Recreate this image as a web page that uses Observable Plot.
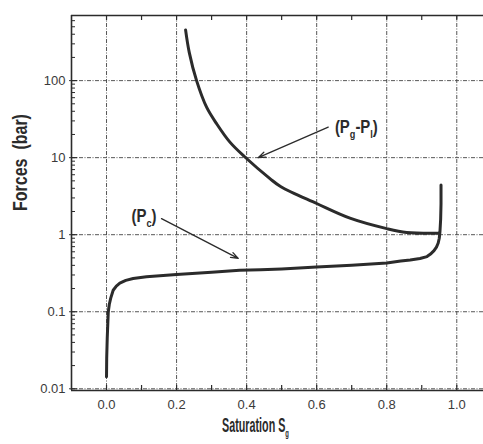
<!DOCTYPE html>
<html><head><meta charset="utf-8">
<script src="https://cdn.jsdelivr.net/npm/d3@7"></script>
<script src="https://cdn.jsdelivr.net/npm/@observablehq/plot@0.6"></script>
<style>body{margin:0;background:#fff}</style>
</head><body><div id="chart"></div>
<script>
// ---- data ----
const pcSat = [0, 0.0005, 0.002, 0.005, 0.008, 0.012, 0.019, 0.028, 0.038, 0.055, 0.076, 0.114, 0.2, 0.3, 0.38, 0.44, 0.5, 0.6, 0.7, 0.8, 0.84, 0.867, 0.895, 0.915, 0.925, 0.935, 0.942, 0.947, 0.95, 0.952, 0.954, 0.955, 0.955];
const pcVal = [0.0143, 0.025, 0.045, 0.1, 0.125, 0.15, 0.19, 0.215, 0.235, 0.255, 0.27, 0.285, 0.305, 0.325, 0.345, 0.35, 0.36, 0.38, 0.40, 0.43, 0.455, 0.47, 0.49, 0.52, 0.56, 0.62, 0.69, 0.78, 0.9, 1.1, 1.6, 2.5, 4.4];
const pgSat = [0.2257, 0.2363, 0.2571, 0.2857, 0.3143, 0.3523, 0.3951, 0.4666, 0.498, 0.6, 0.695, 0.8, 0.857, 0.95];
const pgVal = [455, 231, 100, 45.2, 27.6, 15.9, 10.2, 5.35, 4.19, 2.54, 1.64, 1.2, 1.07, 1.045];

const xTickLabels = [0, 0.2, 0.4, 0.6, 0.8, 1.0];
const xTickMarks = [0, 0.1, 0.2, 0.3, 0.4, 0.5, 0.6, 0.7, 0.8, 0.9, 1.0];
const yTickLabels = [0.01, 0.1, 1, 10, 100];
const xDomain = [-0.1, 1.0763];
const yDomain = [0.0095, 700];

const labelText = ["(P_g-P_l)", "(P_c)"];
const labelSat = [0.652, 0.0714];
const labelVal = [24.5, 1.74];
const arrowSat1 = [0.633, 0.157];
const arrowVal1 = [24.9, 1.62];
const arrowSat2 = [0.433, 0.376];
const arrowVal2 = [10.0, 0.492];

const xTitle = "Saturation S_g";
const yTitle = "Forces  (bar)";

// ---- derived tables ----
const pc = pcSat.map((s, i) => ({s, v: pcVal[i]}));
const pg = pgSat.map((s, i) => ({s, v: pgVal[i]}));
const yMinor = [];
for (const dec of [0.01, 0.1, 1, 10, 100]) for (let k = 2; k <= 9; k++) { const v = +(dec * k).toPrecision(3); if (v < yDomain[1]) yMinor.push(v); }
const labels = labelText.map((t, i) => ({t, s: labelSat[i], v: labelVal[i]}));
const arrows = arrowSat1.map((s, i) => ({s1: s, v1: arrowVal1[i], s2: arrowSat2[i], v2: arrowVal2[i]}));

const W = 483, H = 444, ML = 71, MT = 15, MB = 54, MR = 0;
const FW = W - ML - MR, FH = H - MT - MB;
const ink = "#2b2b2b";
const gridStyle = {stroke: "#444", strokeWidth: 0.9, strokeOpacity: 1, strokeDasharray: "4,1.5,1,1.5"};
const bold = "'Liberation Sans', Arial, Helvetica, sans-serif";
// condensed widths of the bold texts (px)
const squeeze = {"(P_g-P_l)": 43, "(P_c)": 25, [xTitle]: 67, [yTitle]: 97};

const chart = Plot.plot({
  width: W, height: H,
  marginLeft: ML, marginRight: MR, marginTop: MT, marginBottom: MB,
  style: {fontFamily: "'Liberation Sans', Arial, sans-serif", fontSize: "13px", color: "#3a3a3a", background: "#fff", overflow: "visible"},
  x: {domain: xDomain, ticks: xTickLabels, tickFormat: d3.format(".1f"), tickSize: 0, tickPadding: 9, label: null},
  y: {type: "log", domain: yDomain, ticks: yTickLabels, tickFormat: d => String(d), tickSize: 2, tickPadding: 4, label: null},
  marks: [
    Plot.gridX(xTickLabels, gridStyle),
    Plot.gridY(yTickLabels, gridStyle),
    Plot.ruleX([xDomain[0]], {stroke: ink, strokeWidth: 1.6}),
    Plot.ruleY([yDomain[0]], {stroke: ink, strokeWidth: 1.6}),
    Plot.ruleY([yDomain[1]], {stroke: ink, strokeWidth: 1.6}),
    Plot.tickX(xTickMarks, {x: d => d, insetTop: FH - 5, stroke: ink, strokeWidth: 1.2}),
    Plot.tickX(xTickMarks, {x: d => d, insetBottom: FH - 5, stroke: ink, strokeWidth: 1.2}),
    Plot.tickY(yTickLabels, {y: d => d, insetRight: FW - 6, stroke: ink, strokeWidth: 1.2}),
    Plot.tickY(yMinor, {y: d => d, insetRight: FW - 4, stroke: ink, strokeWidth: 1}),
    Plot.line(pc, {x: "s", y: "v", stroke: ink, strokeWidth: 3, strokeLinejoin: "round"}),
    Plot.line(pg, {x: "s", y: "v", stroke: ink, strokeWidth: 3, strokeLinejoin: "round", curve: "catmull-rom"}),
    Plot.arrow(arrows, {x1: "s1", y1: "v1", x2: "s2", y2: "v2", stroke: ink, strokeWidth: 1.3, headLength: 9, headAngle: 40}),
    Plot.text(labels, {x: "s", y: "v", text: "t", textAnchor: "start", fontSize: 18, fontWeight: "bold", fill: ink, fontFamily: bold}),
    Plot.text([xTitle], {frameAnchor: "bottom", dx: -22, dy: 41.5, fontSize: 20, fontWeight: "bold", fill: ink, fontFamily: bold}),
    Plot.text([yTitle], {frameAnchor: "left", dx: -51, dy: 8, rotate: -90, fontSize: 20, fontWeight: "bold", fill: ink, fontFamily: bold})
  ]
});

document.getElementById("chart").appendChild(chart);

// subscripts ("_x" -> lowered small tspan), then condense the bold texts
const NS = "http://www.w3.org/2000/svg";
chart.querySelectorAll("text").forEach(t => {
  const s = t.textContent;
  const target = squeeze[s];
  if (s.includes("_")) {
    const parts = s.split(/_(\w)/);
    t.textContent = "";
    let lowered = false;
    parts.forEach((p, i) => {
      if (p === "") return;
      const ts = document.createElementNS(NS, "tspan");
      ts.textContent = p;
      if (i % 2 === 1) {
        ts.setAttribute("font-size", "11px");
        ts.setAttribute("dy", lowered ? 0 : 5);
        lowered = true;
      } else if (lowered) {
        ts.setAttribute("dy", -5);
        lowered = false;
      }
      t.appendChild(ts);
    });
  }
  if (target) {
    const f = target / t.getComputedTextLength();
    const tr = t.getAttribute("transform");
    if (tr) t.setAttribute("transform", `${tr} scale(${f},1)`);
    else {
      const x = +t.getAttribute("x") || 0, y = +t.getAttribute("y") || 0;
      t.setAttribute("transform", `translate(${x},${y}) scale(${f},1) translate(${-x},${-y})`);
    }
  }
});
</script>
</body></html>
